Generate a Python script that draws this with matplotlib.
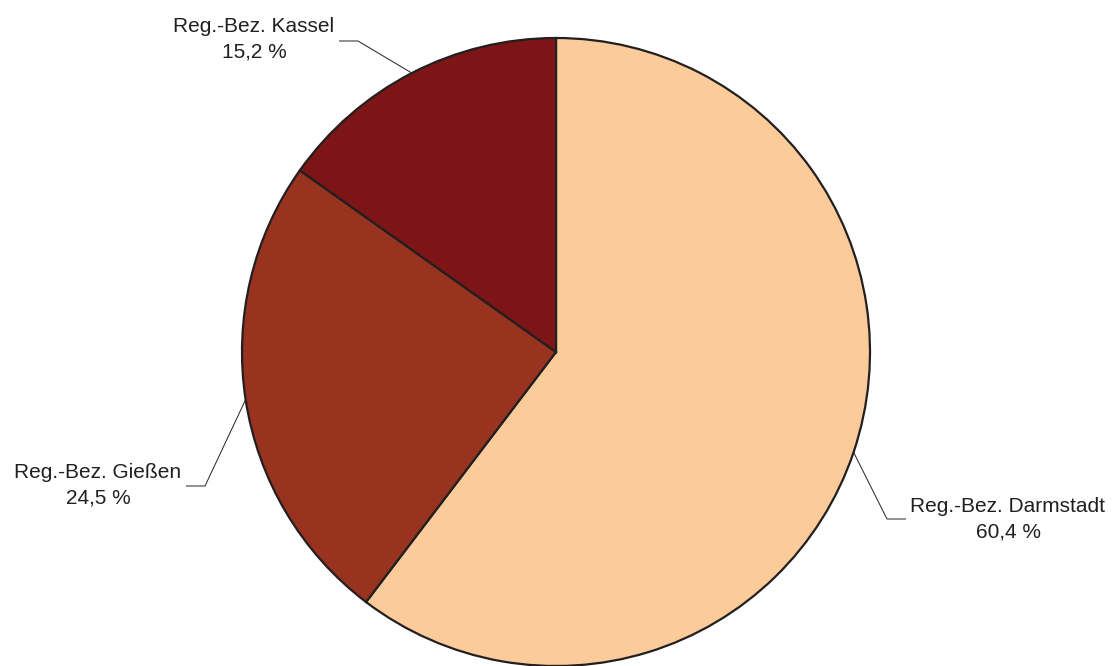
import numpy as np
import matplotlib
matplotlib.use("Agg")
import matplotlib.pyplot as plt

labels = ["Reg.-Bez. Darmstadt", "Reg.-Bez. Gießen", "Reg.-Bez. Kassel"]
values = [60.4, 24.5, 15.2]
value_labels = ["60,4 %", "24,5 %", "15,2 %"]
colors = ["#FBCB9A", "#97331F", "#7D1416"]

W, H = 1114, 666
fig = plt.figure(figsize=(W / 100, H / 100), dpi=100)
ax = fig.add_axes([0, 0, 1, 1])

cx, cy, r = 556, H - 352, 314
wedges, _ = ax.pie(values, colors=colors, startangle=90, counterclock=False,
                   center=(cx, cy), radius=r, frame=True,
                   wedgeprops=dict(edgecolor="#231F20", linewidth=1.6))
ax.set_xlim(0, W)
ax.set_ylim(0, H)
ax.set_aspect("equal")
ax.axis("off")

# leader layout: (elbow point, end point, text center) in pixel coords (y from top)
layout = [
    ((887, 519), (906, 519), (1008, 519)),
    ((205, 486), (186, 486), (98, 485)),
    ((358, 41), (339, 41), (254, 39)),
]
tc = "#231F20"
for w, lab, vl, (elb, end, txt) in zip(wedges, labels, value_labels, layout):
    ang = np.deg2rad((w.theta1 + w.theta2) / 2)
    ax_, ay_ = cx + r * np.cos(ang), cy + r * np.sin(ang)
    ax.plot([ax_, elb[0], end[0]], [ay_, H - elb[1], H - end[1]],
            color=tc, lw=0.7, solid_capstyle="butt")
    ax.text(txt[0], H - txt[1], lab + "\n" + vl, ha="center", va="center",
            fontsize=15, family="Liberation Sans", color=tc, linespacing=1.45)

fig.savefig("out.png", dpi=100)
